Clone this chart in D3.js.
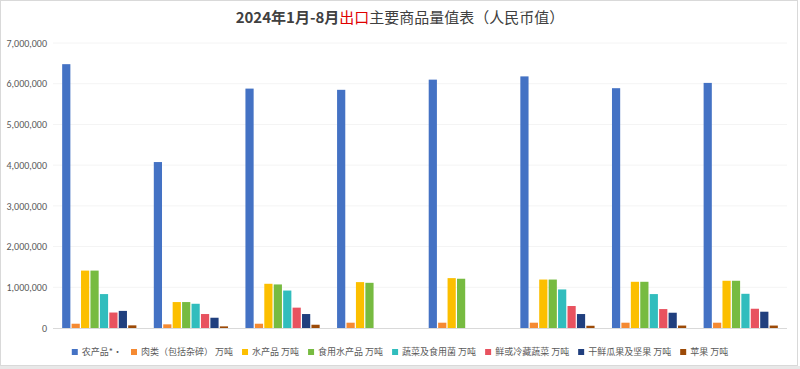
<!DOCTYPE html>
<html>
<head>
<meta charset="utf-8">
<script src="https://cdn.jsdelivr.net/npm/d3@7"></script>
<style>
  body { margin: 0; background: #fff; }
  svg { display: block; font-family: "Noto Sans CJK SC", "Noto Sans", sans-serif; }
</style>
</head>
<body>
<div id="container"></div>
<script>
// months (no labels shown on the x axis in the original)
const months = ["1月", "2月", "3月", "4月", "5月", "6月", "7月", "8月"];

const seriesNames = [
    "农产品*·",
    "肉类（包括杂碎） 万吨",
    "水产品 万吨",
    "食用水产品 万吨",
    "蔬菜及食用菌 万吨",
    "鲜或冷藏蔬菜 万吨",
    "干鲜瓜果及坚果 万吨",
    "苹果 万吨"
];

const seriesColors = ["#4472c4", "#f58a32", "#fcbf00", "#77bb41", "#31bdbd", "#e8525f", "#203f7e", "#9c4a07"];

// values, one list per series (null = no bar)
const agriProducts = [6480000, 4076000, 5880000, 5850000, 6100000, 6180000, 5890000, 6020000];
const meat = [105000, 90000, 105000, 130000, 130000, 130000, 130000, 130000];
const aquatic = [1410000, 637000, 1086000, 1127000, 1225000, 1190000, 1135000, 1160000];
const edibleAquatic = [1410000, 637000, 1070000, 1110000, 1210000, 1190000, 1135000, 1160000];
const vegetables = [833000, 595000, 920000, null, null, 947000, 833000, 840000];
const freshVegetables = [380000, 343000, 500000, null, null, 540000, 465000, 473000];
const fruitsNuts = [420000, 252000, 343000, null, null, 343000, 375000, 400000];
const apples = [65000, 40000, 80000, null, null, 55000, 60000, 60000];

const seriesValues = [agriProducts, meat, aquatic, edibleAquatic, vegetables, freshVegetables, fruitsNuts, apples];

const yTicks = [0, 1000000, 2000000, 3000000, 4000000, 5000000, 6000000, 7000000];

function drawChart() {
    const width = 800;
    const height = 369;
    const margin = { top: 43, right: 13, bottom: 41, left: 53 };

    const svg = d3.create("svg")
        .attr("width", width)
        .attr("height", height);

    // outer frame
    svg.append("rect")
        .attr("x", 0.5).attr("y", 0.5)
        .attr("width", width - 3).attr("height", height - 4)
        .attr("fill", "#fff")
        .attr("stroke", "#d9d9d9");
    svg.append("rect")
        .attr("x", 0).attr("y", height - 3)
        .attr("width", width).attr("height", 3)
        .attr("fill", "#e8e8e8");

    const x0 = d3.scaleBand()
        .domain(months)
        .range([margin.left, width - margin.right])
        .paddingInner(0.19)
        .paddingOuter(0.1);

    const x1 = d3.scaleBand()
        .domain(d3.range(seriesNames.length))
        .range([0, x0.bandwidth()])
        .paddingInner(0.13);

    const y = d3.scaleLinear()
        .domain([0, 7000000])
        .range([height - margin.bottom, margin.top]);

    // faint grid
    svg.append("g")
        .selectAll("line")
        .data(yTicks.slice(1))
        .join("line")
        .attr("x1", margin.left).attr("x2", width - margin.right)
        .attr("y1", d => y(d)).attr("y2", d => y(d))
        .attr("stroke", "#f4f4f4");

    const yAxis = svg.append("g")
        .attr("transform", `translate(${margin.left},0)`)
        .call(d3.axisLeft(y).tickValues(yTicks).tickFormat(d3.format(",")).tickSize(0).tickPadding(6));
    yAxis.select(".domain").remove();
    yAxis.selectAll("text")
        .attr("fill", "#595959")
        .style("font-size", "10px")
        .style("font-family", "Calibri, Carlito, 'Liberation Sans', sans-serif");

    // bars
    const groups = svg.append("g")
        .selectAll("g")
        .data(months)
        .join("g")
        .attr("transform", d => `translate(${x0(d)},0)`);

    groups.selectAll("rect")
        .data((m, i) => seriesValues.map((vals, s) => ({ s, v: vals[i] })).filter(d => d.v != null))
        .join("rect")
        .attr("x", d => x1(d.s))
        .attr("width", x1.bandwidth())
        .attr("y", d => y(d.v))
        .attr("height", d => y(0) - y(d.v))
        .attr("fill", d => seriesColors[d.s]);

    // baseline
    svg.append("line")
        .attr("x1", margin.left).attr("x2", width - margin.right)
        .attr("y1", y(0) + 0.5).attr("y2", y(0) + 0.5)
        .attr("stroke", "#d9d9d9");

    // title
    const title = svg.append("text")
        .attr("x", width / 2)
        .attr("y", 23)
        .attr("text-anchor", "middle")
        .attr("fill", "#404040")
        .style("font-size", "15px")
        .style("font-weight", "bold");
    title.append("tspan").text("2024年1月-8月");
    title.append("tspan").attr("fill", "#e00000").style("font-weight", "normal").text("出口");
    title.append("tspan").style("font-weight", "normal").text("主要商品量值表（人民币值）");

    // legend, centred
    const legend = svg.append("g");
    const items = legend.selectAll("g")
        .data(seriesNames)
        .join("g");
    items.append("rect")
        .attr("width", 6).attr("height", 6)
        .attr("y", -3)
        .attr("fill", (d, i) => seriesColors[i]);
    items.append("text")
        .attr("x", 10)
        .attr("dy", "0.35em")
        .attr("fill", "#595959")
        .style("font-size", "9px")
        .text(d => d);

    document.getElementById("container").appendChild(svg.node());

    let offset = 0;
    items.each(function () {
        const w = this.getBBox().width;
        d3.select(this).attr("transform", `translate(${offset},0)`);
        offset += w + 9;
    });
    const total = offset - 9;
    legend.attr("transform", `translate(${(width - total) / 2},352)`);
}

drawChart();
</script>
</body>
</html>
